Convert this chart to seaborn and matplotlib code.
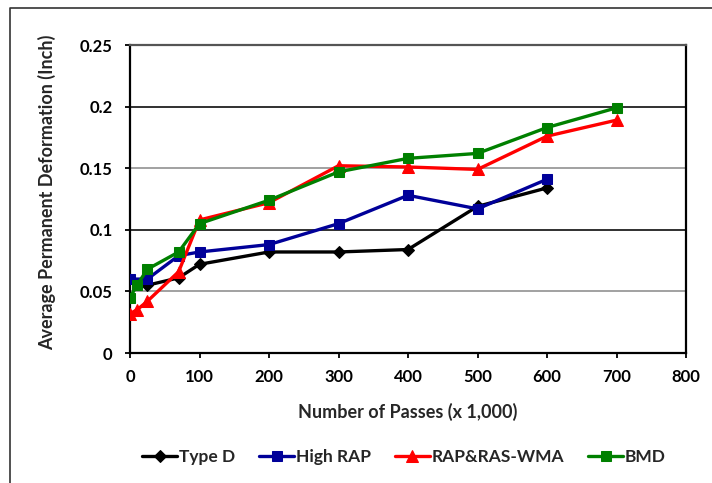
import matplotlib
matplotlib.use("Agg")
import matplotlib.pyplot as plt
from matplotlib.lines import Line2D
import seaborn as sns
import pandas as pd

# Permanent deformation vs. number of load passes (thousands)
passes_type_d = [25, 70, 100, 200, 300, 400, 500, 600]
type_d = [0.055, 0.061, 0.072, 0.082, 0.082, 0.084, 0.119, 0.134]

passes_high_rap = [0, 25, 70, 100, 200, 300, 400, 500, 600]
high_rap = [0.060, 0.060, 0.079, 0.082, 0.088, 0.105, 0.128, 0.117, 0.141]

passes_wma = [0, 10, 25, 70, 100, 200, 300, 400, 500, 600, 700]
rap_ras_wma = [0.032, 0.035, 0.042, 0.066, 0.108, 0.122, 0.152, 0.151, 0.149, 0.176, 0.189]

passes_bmd = [0, 10, 25, 70, 100, 200, 300, 400, 500, 600, 700]
bmd = [0.045, 0.055, 0.068, 0.082, 0.105, 0.124, 0.147, 0.158, 0.162, 0.183, 0.199]

series_names = ["Type D", "High RAP", "RAP&RAS-WMA", "BMD"]
x_ticks = [0, 100, 200, 300, 400, 500, 600, 700, 800]
y_ticks = [0, 0.05, 0.1, 0.15, 0.2, 0.25]
y_tick_labels = ["0", "0.05", "0.1", "0.15", "0.2", "0.25"]

frames = []
for name, xs, ys in zip(series_names,
                        [passes_type_d, passes_high_rap, passes_wma, passes_bmd],
                        [type_d, high_rap, rap_ras_wma, bmd]):
    frames.append(pd.DataFrame({"passes": xs, "deformation": ys, "mix": name}))
df = pd.concat(frames, ignore_index=True)

sns.set_theme(style="white")
plt.rcParams["font.family"] = ["Lato", "DejaVu Sans"]
plt.rcParams["font.weight"] = "bold"

fig = plt.figure(figsize=(7.12, 4.83), dpi=100)
ax = fig.add_axes([130 / 712, 1 - 353 / 483, (686 - 130) / 712, (353 - 45) / 483])

styles = {
    "Type D": dict(color="black", marker="D", ms=6.5),
    "High RAP": dict(color="#000099", marker="s", ms=7.5),
    "RAP&RAS-WMA": dict(color="#FF0000", marker="^", ms=9),
    "BMD": dict(color="#008000", marker="s", ms=7.5),
}

# horizontal gridlines drawn under the data
grid_colors = {0.05: "#9a9a9a", 0.1: "#202020", 0.15: "#9a9a9a", 0.2: "#202020"}
for yv, c in grid_colors.items():
    ax.axhline(yv, color=c, lw=1.3, zorder=1)

for i, name in enumerate(series_names):
    st = styles[name]
    sub = df[df["mix"] == name]
    sns.lineplot(data=sub, x="passes", y="deformation", ax=ax, sort=False,
                 estimator=None, color=st["color"], marker=st["marker"],
                 markersize=st["ms"], markeredgecolor=st["color"],
                 linewidth=2.4, label=name, zorder=3 + i)

ax.set_xlim(0, 800)
ax.set_ylim(0, 0.25)
ax.set_xticks(x_ticks)
ax.set_xticklabels([str(v) for v in x_ticks])
ax.set_yticks(y_ticks)
ax.set_yticklabels(y_tick_labels)

for side in ["left", "bottom", "right", "top"]:
    ax.spines[side].set_visible(True)
    ax.spines[side].set_color("black")
    ax.spines[side].set_linewidth(1.6)
ax.spines["top"].set_color("#555555")

ax.tick_params(axis="both", which="major", direction="out", length=3.5, width=1.3,
               colors="black", labelsize=12, bottom=True, left=True)
ax.tick_params(axis="x", pad=8)
ax.tick_params(axis="y", pad=9)
for lbl in ax.get_xticklabels() + ax.get_yticklabels():
    lbl.set_fontweight("bold")

ax.set_xlabel("Number of Passes (x 1,000)", fontsize=13, fontweight="bold")
ax.set_ylabel("Average Permanent Deformation (Inch)", fontsize=13, fontweight="bold")
ax.xaxis.set_label_coords((408 - 130) / 556, (353 - 412) / 308)
ax.xaxis.label.set_va("center")
ax.yaxis.set_label_coords((47 - 130) / 556, (353 - 192) / 308)
ax.yaxis.label.set_va("center")

handles, labels = ax.get_legend_handles_labels()
ax.get_legend().remove()
fig.legend(handles, labels, loc="center", bbox_to_anchor=(404 / 712, 1 - 457 / 483),
           ncol=4, frameon=False, handlelength=2.0, handletextpad=0.1,
           columnspacing=1.4, prop={"weight": "bold", "size": 12.5})

# outer frame around the chart
fig.add_artist(Line2D([10 / 712, 10 / 712, 1.0], [0.0, 1 - 8 / 483, 1 - 8 / 483],
                      transform=fig.transFigure, color="#333333", lw=1.2))

fig.savefig("out.png", dpi=100, facecolor="white")
